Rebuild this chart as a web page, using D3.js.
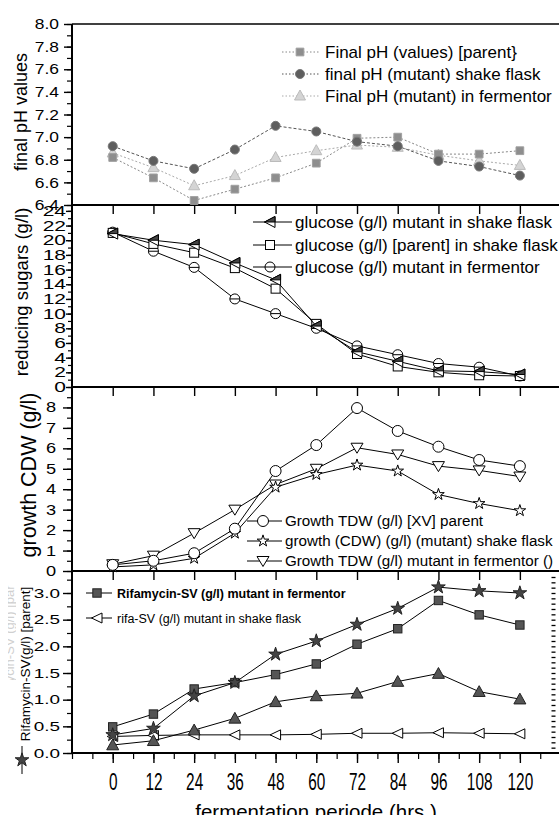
<!DOCTYPE html>
<html>
<head>
<meta charset="utf-8">
<script src="https://cdn.jsdelivr.net/npm/d3@7"></script>
<style>
body { margin: 0; background: #fff; }
text { font-family: "Liberation Sans", Arial, sans-serif; }
</style>
</head>
<body>
<div id="chart"></div>
<script>
// shared x values (hrs)
const hours = [0, 12, 24, 36, 48, 60, 72, 84, 96, 108, 120]

// panel 1 - final pH
const phParent = [6.82, 6.64, 6.44, 6.54, 6.64, 6.77, 6.99, 7.00, 6.85, 6.85, 6.88]
const phMutantShake = [6.92, 6.79, 6.72, 6.89, 7.10, 7.05, 6.96, 6.92, 6.79, 6.74, 6.66]
const phMutantFerm = [6.86, 6.73, 6.57, 6.66, 6.82, 6.88, 6.93, 6.91, 6.84, 6.79, 6.75]
const phTicks = [6.4, 6.6, 6.8, 7.0, 7.2, 7.4, 7.6, 7.8, 8.0]
const phLegend = ["Final pH (values) [parent}", "final pH (mutant) shake flask", "Final pH (mutant) in fermentor"]

// panel 2 - reducing sugars
const gluMutantShake = [20.9, 20.0, 19.4, 16.9, 14.6, 8.3, 4.8, 3.5, 2.2, 2.1, 1.7]
const gluParentShake = [21.0, 19.5, 18.3, 16.2, 13.4, 8.6, 4.5, 2.8, 2.0, 1.6, 1.5]
const gluMutantFerm = [21.1, 18.5, 16.3, 12.0, 10.0, 8.0, 5.6, 4.4, 3.2, 2.7, 1.5]
const sugarTicks = [0, 2, 4, 6, 8, 10, 12, 14, 16, 18, 20, 22, 24]
const sugarLegend = ["glucose (g/l) mutant in shake flask", "glucose (g/l) [parent] in shake flask", "glucose (g/l) mutant in fermentor"]

// panel 3 - growth
const cdwParent = [0.30, 0.50, 0.87, 2.07, 4.89, 6.16, 7.97, 6.85, 6.08, 5.43, 5.13]
const cdwMutantShake = [0.20, 0.30, 0.62, 1.85, 4.10, 4.72, 5.18, 4.89, 3.74, 3.30, 2.95]
const cdwMutantFerm = [0.33, 0.75, 1.85, 3.00, 4.23, 5.00, 6.03, 5.70, 5.13, 4.92, 4.62]
const cdwTicks = [0, 1, 2, 3, 4, 5, 6, 7, 8]
const cdwLegend = ["Growth TDW (g/l) [XV] parent", "growth (CDW) (g/l) (mutant) shake flask", "Growth TDW (g/l) mutant in fermentor ()"]

// panel 4 - rifamycin
const rifaParent = [0.34, 0.46, 1.07, 1.32, 1.85, 2.10, 2.41, 2.71, 3.11, 3.04, 3.00]
const rifaMutantFerm = [0.49, 0.73, 1.20, 1.32, 1.47, 1.67, 2.04, 2.33, 2.86, 2.59, 2.40]
const rifaThird = [0.15, 0.23, 0.43, 0.65, 0.96, 1.07, 1.12, 1.34, 1.49, 1.15, 1.01]
const rifaMutantShake = [0.31, 0.33, 0.34, 0.34, 0.34, 0.35, 0.37, 0.37, 0.38, 0.37, 0.36]
const rifaTicks = [0, 0.5, 1.0, 1.5, 2.0, 2.5, 3.0]
const rifaLegend = ["Rifamycin-SV (g/l) mutant in fermentor", "rifa-SV (g/l) mutant in shake flask"]
const rifaAxisLabel = "Rifamycin-SV(g/l) [parent]"

const xTitle = "fermentation periode (hrs.)"

const W = 559, H = 815
const L = 72 // left axis

const svg = d3.select('#chart').append('svg')
    .attr('width', W).attr('height', H)

const x = d3.scaleLinear().domain([-12, 130.5]).range([L, 555.5])

const y1 = d3.scaleLinear().domain([6.4, 8.0]).range([205, 24])
const y2 = d3.scaleLinear().domain([0, 24.8]).range([387, 205])
const y3 = d3.scaleLinear().domain([0, 9]).range([571, 387])
const y4 = d3.scaleLinear().domain([0, 3.4125]).range([753, 571])

// marker shapes
const sym = (type, size) => d3.symbol().type(type).size(size)()
const mk = {
    phSquare: g => g.append('path').attr('d', sym(d3.symbolSquare, 60)).attr('fill', '#8e8e8e').attr('stroke', '#a0a0a0'),
    phCircle: g => g.append('circle').attr('r', 4.5).attr('fill', '#5e5e5e').attr('stroke', '#777'),
    phTri: g => g.append('path').attr('d', 'M0,-6L5.5,4L-5.5,4Z').attr('fill', '#d4d4d4').attr('stroke', '#bbb'),
    halfLeftTri: g => {
        g.append('path').attr('d', 'M-5.5,0L5,-5.5L5,5.5Z').attr('fill', '#fff').attr('stroke', '#000')
        g.append('path').attr('d', 'M-5.5,0L5,-5.5L5,0Z').attr('fill', '#444').attr('stroke', '#000')
    },
    openSquare: g => g.append('rect').attr('x', -4.5).attr('y', -4.5).attr('width', 9).attr('height', 9)
        .attr('fill', '#fff').attr('stroke', '#000'),
    thetaCircle: g => {
        g.append('circle').attr('r', 5).attr('fill', '#fff').attr('stroke', '#000')
        g.append('line').attr('x1', -5).attr('x2', 5).attr('stroke', '#000')
    },
    openCircle: g => g.append('circle').attr('r', 5.5).attr('fill', '#fff').attr('stroke', '#000'),
    openStar: g => g.append('path').attr('d', sym(d3.symbolStar, 42)).attr('fill', '#fff').attr('stroke', '#000'),
    openDownTri: g => g.append('path').attr('d', 'M-6,-4.5L6,-4.5L0,5.5Z').attr('fill', '#fff').attr('stroke', '#000'),
    darkSquare: g => g.append('rect').attr('x', -4.2).attr('y', -4.2).attr('width', 8.4).attr('height', 8.4)
        .attr('fill', '#555').attr('stroke', '#222'),
    darkStar: g => g.append('path').attr('d', sym(d3.symbolStar, 58)).attr('fill', '#444').attr('stroke', '#222'),
    darkTri: g => g.append('path').attr('d', 'M0,-6L6,4.8L-6,4.8Z').attr('fill', '#555').attr('stroke', '#222'),
    openLeftTri: g => g.append('path').attr('d', 'M-5.5,0L5,-5L5,5Z').attr('fill', '#fff').attr('stroke', '#000'),
}

const drawSeries = (y, values, marker, stroke, dash) => {
    const g = svg.append('g')
    const line = d3.line().x((d, i) => x(hours[i])).y(d => y(d))
    g.append('path').attr('d', line(values))
        .attr('fill', 'none').attr('stroke', stroke).attr('stroke-width', 1)
        .attr('stroke-dasharray', dash || null)
    values.forEach((v, i) => {
        const m = g.append('g').attr('transform', `translate(${x(hours[i])},${y(v)})`)
        marker(m)
    })
}

const drawLegend = (items, x0, x1, xm, xt, rows, fs, dashes, strokes, weights) => {
    items.forEach((it, i) => {
        const g = svg.append('g')
        g.append('line').attr('x1', x0).attr('x2', x1).attr('y1', rows[i]).attr('y2', rows[i])
            .attr('stroke', strokes[i]).attr('stroke-dasharray', dashes[i] || null)
        const m = g.append('g').attr('transform', `translate(${xm},${rows[i]})`)
        it.marker(m)
        g.append('text').attr('x', xt).attr('y', rows[i]).attr('dy', '0.36em')
            .attr('font-size', fs).attr('font-weight', weights ? weights[i] : 'normal')
            .text(it.label)
    })
}

// y axes
const leftAxis = (y, ticks, minor, fmt, fs, sx, endX, majorLen, minorLen) => {
    svg.append('g').attr('transform', `translate(${L},0)`)
        .call(d3.axisLeft(y).tickValues(minor).tickSize(minorLen).tickFormat(''))
        .call(s => s.select('.domain').remove())
        .call(s => s.selectAll('line').attr('stroke-width', 1.2))
    svg.append('g').attr('transform', `translate(${L},0)`)
        .call(d3.axisLeft(y).tickValues(ticks).tickSize(majorLen).tickFormat(fmt))
        .call(s => s.select('.domain').remove())
        .call(s => s.selectAll('line').attr('stroke-width', 1.4))
        .call(s => s.selectAll('text')
            .attr('font-family', '"Liberation Sans", Arial, sans-serif')
            .attr('font-size', fs).attr('fill', '#000')
            .attr('x', (endX - L) / sx)
            .attr('transform', `scale(${sx},1)`))
}

const stepRange = (a, b, s) => d3.range(Math.round((b - a) / s) + 1).map(i => +(a + i * s).toFixed(3))

leftAxis(y1, phTicks, stepRange(6.4, 8.0, 0.1), d3.format('.1f'), 14.5, 1.2, 59, 8, 5)
leftAxis(y2, sugarTicks, stepRange(0, 24, 1), d3.format('d'), 14, 1.5, 66, 6, 4)
leftAxis(y3, cdwTicks, stepRange(0, 8.5, 0.5), d3.format('d'), 14, 1.3, 56, 9, 5)
leftAxis(y4, rifaTicks, stepRange(0, 3.25, 0.25), d3.format('.1f'), 13.5, 1.4, 60, 9, 5)

// bottom axes of each panel (ticks only)
const panelBottoms = [y1(6.4), y2(0), y3(0)]
panelBottoms.forEach(yy => {
    svg.append('g').attr('transform', `translate(0,${yy})`)
        .call(d3.axisBottom(x).tickValues(hours).tickSize(9).tickFormat(''))
        .call(s => s.select('.domain').remove())
        .call(s => s.selectAll('line').attr('stroke-width', 1.4))
})
svg.append('g').attr('transform', `translate(0,${y4(0)})`)
    .call(d3.axisBottom(x).tickValues(stepRange(-12, 126, 6)).tickSize(6).tickFormat(''))
    .call(s => s.select('.domain').remove())
    .call(s => s.selectAll('line').attr('stroke-width', 1.2))
svg.append('g').attr('transform', `translate(0,${y4(0)})`)
    .call(d3.axisBottom(x).tickValues(hours).tickSize(10).tickFormat(d3.format('d')))
    .call(s => s.select('.domain').remove())
    .call(s => s.selectAll('line').attr('stroke-width', 1.4))
    .call(s => s.selectAll('text')
        .attr('font-family', '"Liberation Sans", Arial, sans-serif')
        .attr('font-size', 24).attr('fill', '#000')
        .attr('y', 37).attr('dy', 0)
        .attr('transform', 'scale(0.64,1)'))

// right ticks of bottom panel
svg.append('g').attr('transform', `translate(555.5,0)`)
    .call(d3.axisRight(y4).tickValues(stepRange(0.1, 3.3, 0.1)).tickSize(-4).tickFormat(''))
    .call(s => s.select('.domain').remove())
    .call(s => s.selectAll('line').attr('stroke-width', 1.3))

// frame lines
;[24, y1(6.4), y2(0), y3(0), y4(0)].forEach((yy, i) => {
    svg.append('line').attr('x1', L).attr('x2', W).attr('y1', yy).attr('y2', yy)
        .attr('stroke', '#000').attr('stroke-width', i === 0 ? 1.6 : 2)
})
svg.append('line').attr('x1', L).attr('x2', L).attr('y1', 24).attr('y2', y4(0))
    .attr('stroke', '#000').attr('stroke-width', 2)

// panel 1
drawSeries(y1, phMutantFerm, mk.phTri, '#aaa', '2,2')
drawSeries(y1, phParent, mk.phSquare, '#888', '2,2')
drawSeries(y1, phMutantShake, mk.phCircle, '#555', '3,2')
drawLegend(
    [{ label: phLegend[0], marker: mk.phSquare }, { label: phLegend[1], marker: mk.phCircle }, { label: phLegend[2], marker: mk.phTri }],
    282, 320, 300, 325, [52, 74, 96], 17, ['1.5,2', '1.5,2', '1.5,2'], ['#888', '#555', '#aaa'])

// panel 2
drawSeries(y2, gluMutantFerm, mk.thetaCircle, '#000')
drawSeries(y2, gluParentShake, mk.openSquare, '#000')
drawSeries(y2, gluMutantShake, mk.halfLeftTri, '#000')
drawLegend(
    [{ label: sugarLegend[0], marker: mk.halfLeftTri }, { label: sugarLegend[1], marker: mk.openSquare }, { label: sugarLegend[2], marker: mk.thetaCircle }],
    253, 292, 270, 295, [222, 245, 267], 17, [], ['#000', '#000', '#000'])

// panel 3
drawSeries(y3, cdwMutantFerm, mk.openDownTri, '#000')
drawSeries(y3, cdwMutantShake, mk.openStar, '#000')
drawSeries(y3, cdwParent, mk.openCircle, '#000')
drawLegend(
    [{ label: cdwLegend[0], marker: mk.openCircle }, { label: cdwLegend[1], marker: mk.openStar }, { label: cdwLegend[2], marker: mk.openDownTri }],
    247, 282, 263, 285, [521, 541, 561], 15.2, [], ['#000', '#000', '#000'])

// panel 4
drawSeries(y4, rifaMutantShake, mk.openLeftTri, '#000')
drawSeries(y4, rifaThird, mk.darkTri, '#000')
drawSeries(y4, rifaMutantFerm, mk.darkSquare, '#000')
drawSeries(y4, rifaParent, mk.darkStar, '#000')
drawLegend(
    [{ label: rifaLegend[0], marker: mk.darkSquare }, { label: rifaLegend[1], marker: mk.openLeftTri }],
    86, 112, 97, 117, [593, 618], 12.5, [], ['#000', '#000'], ['bold', 'normal'])

// y axis titles
const yTitle = (txt, cx, cy, fs, fill) => svg.append('text')
    .attr('transform', `translate(${cx},${cy}) rotate(-90)`)
    .attr('text-anchor', 'middle').attr('dy', '0.35em')
    .attr('font-size', fs).attr('fill', fill || '#000').text(txt)

yTitle("final pH values", 21, 112, 18)
yTitle("reducing sugars (g/l)", 22, 292, 18.5)
yTitle("growth CDW (g/l)", 28, 475, 21.5)
yTitle(rifaAxisLabel, 25, 664, 13.5)
// faint ghost label behind
svg.append('clipPath').attr('id', 'ghostClip').append('rect').attr('x', 8).attr('y', 585).attr('width', 8).attr('height', 95)
svg.append('g').attr('clip-path', 'url(#ghostClip)')
    .append('text').attr('transform', 'translate(9,640) rotate(-90)')
    .attr('text-anchor', 'middle').attr('dy', '0.35em')
    .attr('font-size', 13).attr('fill', '#d0d0d0').text("Rifamycin-SV (g/l) [parent]")
// star + line marker for axis label
svg.append('line').attr('x1', 22).attr('x2', 22).attr('y1', 746).attr('y2', 774).attr('stroke', '#000')
mk.darkStar(svg.append('g').attr('transform', 'translate(22,760)'))

// x title (cut at bottom edge)
svg.append('text').attr('x', 316).attr('y', 819).attr('text-anchor', 'middle')
    .attr('font-size', 20.5).text(xTitle)
</script>
</body>
</html>
